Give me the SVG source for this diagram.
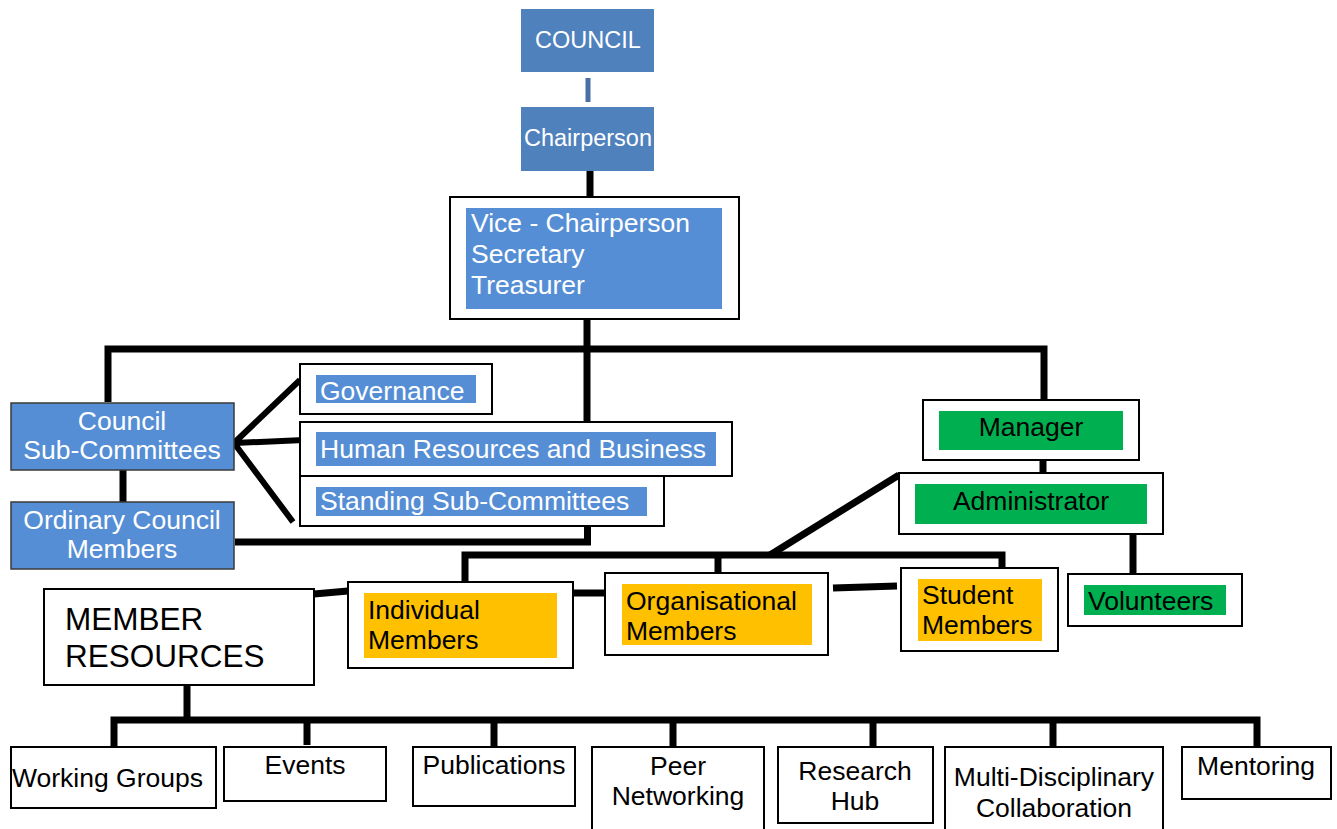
<svg xmlns="http://www.w3.org/2000/svg" width="1337" height="829" viewBox="0 0 1337 829">
<style>
text{font-family:"Liberation Sans",Arial,sans-serif;font-size:26.5px;}
.w{fill:#ffffff;}
.k{fill:#000000;}
.c{text-anchor:middle;}
.frame{fill:#ffffff;stroke:#000000;stroke-width:2;}
.top{fill:#4f81bd;}
.blue{fill:#558ed5;}
.blueb{fill:#558ed5;stroke:#3a3a3a;stroke-width:1.5;}
.green{fill:#00b050;}
.yellow{fill:#ffc000;}
.ln{fill:none;stroke:#000000;stroke-width:7;stroke-linejoin:miter;}
.ln6{fill:none;stroke:#000000;stroke-width:6;}
</style>
<rect width="1337" height="829" fill="#ffffff"/>
<g id="connectors">
<rect x="585.5" y="78" width="5" height="24" fill="#4a6fa5"/>
<path class="ln" d="M590 171V197"/>
<path class="ln" d="M108 402V349H1044V401"/>
<path class="ln" d="M587 319V423"/>
<path class="ln6" d="M234 443L300 380M234 443L304 440M234 443L293 522"/>
<path class="ln" d="M123 470V503"/>
<path class="ln" d="M587.5 526V542H235"/>
<path class="ln" d="M1043 460V474"/>
<path class="ln" d="M1133 529V575"/>
<path class="ln" d="M899 475L770 555"/>
<path class="ln" d="M465 583V555H1002V575"/>
<path class="ln" d="M718 555V579"/>
<path class="ln" d="M314 594L348 591"/>
<path class="ln" d="M573 593H606"/>
<path class="ln" d="M833 588L897 586"/>
<path class="ln" d="M187 685V723"/>
<path class="ln" d="M114 748V720H1257V748"/>
<path class="ln" d="M307 720V745M494 720V748M673 720V748M873 720V748M1053 720V748"/>
</g>
<g id="council">
<rect class="top" x="521" y="9" width="133" height="63"/>
<text class="w c" x="588" y="48" style="font-size:23.5px">COUNCIL</text>
</g>
<g id="chairperson">
<rect class="top" x="521" y="107" width="133" height="64"/>
<text class="w c" x="588" y="146" style="font-size:23.5px">Chairperson</text>
</g>
<g id="officers">
<rect class="frame" x="450" y="197" width="289" height="122"/>
<rect class="blue" x="466" y="208" width="256" height="101"/>
<text class="w" x="471" y="232">Vice - Chairperson</text>
<text class="w" x="471" y="263">Secretary</text>
<text class="w" x="471" y="294">Treasurer</text>
</g>
<g id="council-sub-committees">
<rect class="blueb" x="11" y="403" width="223" height="67"/>
<text class="w c" x="122" y="430">Council</text>
<text class="w c" x="122" y="459">Sub-Committees</text>
</g>
<g id="ordinary-council-members">
<rect class="blueb" x="11" y="502" width="223" height="67"/>
<text class="w c" x="122" y="529">Ordinary Council</text>
<text class="w c" x="122" y="558">Members</text>
</g>
<g id="governance">
<rect class="frame" x="300" y="364" width="192" height="50"/>
<rect class="blue" x="316" y="375" width="160" height="28"/>
<text class="w" x="320" y="400">Governance</text>
</g>
<g id="human-resources">
<rect class="frame" x="300" y="422" width="432" height="54"/>
<rect class="blue" x="316" y="432" width="400" height="34"/>
<text class="w" x="320" y="458">Human Resources and Business</text>
</g>
<g id="standing-sub-committees">
<rect class="frame" x="300" y="476" width="364" height="50"/>
<rect class="blue" x="316" y="487" width="331" height="29"/>
<text class="w" x="320" y="510">Standing Sub-Committees</text>
</g>
<g id="manager">
<rect class="frame" x="923" y="400" width="216" height="60"/>
<rect class="green" x="939" y="411" width="184" height="39"/>
<text class="k c" x="1031" y="436">Manager</text>
</g>
<g id="administrator">
<rect class="frame" x="899" y="473" width="264" height="61"/>
<rect class="green" x="915" y="484" width="232" height="40"/>
<text class="k c" x="1031" y="510">Administrator</text>
</g>
<g id="volunteers">
<rect class="frame" x="1068" y="574" width="174" height="52"/>
<rect class="green" x="1084" y="585" width="142" height="30"/>
<text class="k" x="1088" y="610">Volunteers</text>
</g>
<g id="individual-members">
<rect class="frame" x="348" y="582" width="225" height="86"/>
<rect class="yellow" x="364" y="593" width="193" height="65"/>
<text class="k" x="368" y="619">Individual</text>
<text class="k" x="368" y="649">Members</text>
</g>
<g id="organisational-members">
<rect class="frame" x="605" y="573" width="223" height="82"/>
<rect class="yellow" x="622" y="584" width="190" height="61"/>
<text class="k" x="626" y="610">Organisational</text>
<text class="k" x="626" y="640">Members</text>
</g>
<g id="student-members">
<rect class="frame" x="901" y="568" width="157" height="83"/>
<rect class="yellow" x="918" y="579" width="124" height="62"/>
<text class="k" x="922" y="604">Student</text>
<text class="k" x="922" y="634">Members</text>
</g>
<g id="member-resources">
<rect class="frame" x="44" y="589" width="270" height="96"/>
<text class="k" x="65" y="630" style="font-size:31.5px">MEMBER</text>
<text class="k" x="65" y="667" style="font-size:31.5px">RESOURCES</text>
</g>
<g id="working-groups">
<rect class="frame" x="11" y="747" width="205" height="61"/>
<text class="k" x="12" y="787">Working Groups</text>
</g>
<g id="events">
<rect class="frame" x="224" y="747" width="162" height="54"/>
<text class="k c" x="305" y="774">Events</text>
</g>
<g id="publications">
<rect class="frame" x="413" y="747" width="162" height="59"/>
<text class="k c" x="494" y="774">Publications</text>
</g>
<g id="peer-networking">
<rect class="frame" x="592" y="747" width="172" height="90"/>
<text class="k c" x="678" y="775">Peer</text>
<text class="k c" x="678" y="805">Networking</text>
</g>
<g id="research-hub">
<rect class="frame" x="778" y="747" width="155" height="76"/>
<text class="k c" x="855" y="780">Research</text>
<text class="k c" x="855" y="810">Hub</text>
</g>
<g id="multi-disciplinary-collaboration">
<rect class="frame" x="945" y="747" width="218" height="90"/>
<text class="k c" x="1054" y="786">Multi-Disciplinary</text>
<text class="k c" x="1054" y="817">Collaboration</text>
</g>
<g id="mentoring">
<rect class="frame" x="1182" y="747" width="149" height="52"/>
<text class="k c" x="1256" y="775">Mentoring</text>
</g>
</svg>
